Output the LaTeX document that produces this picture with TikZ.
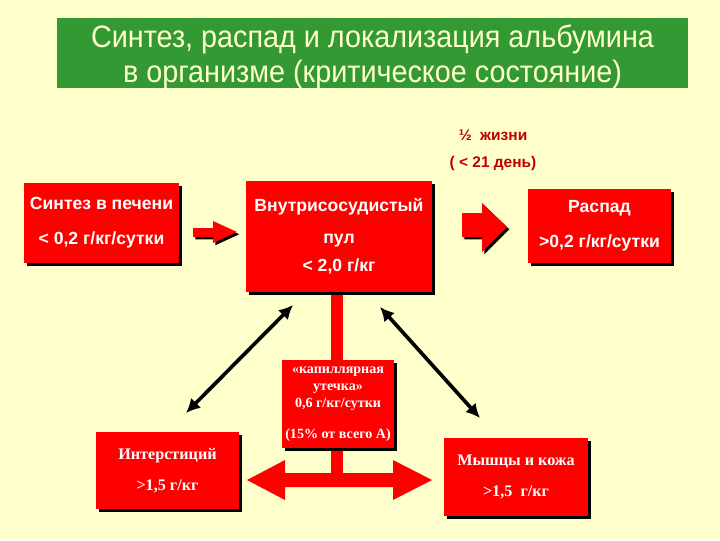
\documentclass[tikz,border=0pt]{standalone}
\usepackage{fontspec}
\setmainfont{Liberation Sans}
\newfontfamily\titlefont[FakeStretch=0.93]{Liberation Sans}
\newfontfamily\timesfont{Liberation Serif}
\usetikzlibrary{arrows.meta,shadows}
\definecolor{paper}{RGB}{255,255,204}
\definecolor{leaf}{RGB}{51,153,51}
\definecolor{boxred}{RGB}{255,0,0}
\definecolor{darkred}{RGB}{190,0,0}
\newcommand\px{0.025cm}

\begin{document}
\begin{tikzpicture}[x=\px, y=-\px,
	box/.style={fill=boxred, text=white, align=center, inner sep=0pt,
		drop shadow={shadow xshift=2.2pt, shadow yshift=-2.2pt, opacity=1, fill=black}},
	sansbox/.style={box, font=\fontsize{12.5}{15}\selectfont\bfseries},
	romanbox/.style={box, font=\timesfont\fontsize{11.5}{13}\selectfont\bfseries},
	blockarrow/.style={fill=boxred, drop shadow={shadow xshift=1.6pt, shadow yshift=-1.6pt, opacity=1, fill=black}},
	link/.style={{Latex[length=10pt,width=10pt]}-{Latex[length=10pt,width=10pt]}, line width=2.6pt, black},
	halflife/.style={text=darkred, font=\bfseries\fontsize{11}{13}\selectfont}]
	\fill[paper] (0,0) rectangle (720,540);
	\useasboundingbox (0,0) rectangle (720,540);
	% title
	\fill[leaf] (57,18) rectangle (688,88);
	\node[text=paper, align=center, font=\titlefont\fontsize{22}{25}\selectfont] (title) at (372.5,57)
		{Синтез, распад и локализация альбумина\\в организме (критическое состояние)};
	\node[halflife] (half) at (493,135) {½~~жизни};
	\node[halflife] (days) at (493,163) {( < 21 день)};
	% central red bar and distribution arrow
	\fill[boxred] (331,290) rectangle (343,475);
	\fill[boxred] (247,480) -- (285,460) -- (285,473) -- (393,473) -- (393,460) -- (432,480)
		-- (393,500) -- (393,487) -- (285,487) -- (285,500) -- cycle;
	\node[box, minimum width=112*\px, minimum height=88*\px, font=\timesfont\fontsize{10}{12}\selectfont\bfseries]
		(leak) at (338,404) {«капиллярная\\утечка»\\0,6 г/кг/сутки\\[10pt](15\% от всего А)};
	% boxes
	\node[sansbox, minimum width=155*\px, minimum height=80*\px] (synth) at (101.5,223)
		{Синтез в печени\\[10pt]< 0,2 г/кг/сутки};
	\node[sansbox, minimum width=186*\px, minimum height=111*\px] (pool) at (339,236.5)
		{Внутрисосудистый\\[8pt]пул\\[5pt]< 2,0 г/кг};
	\node[sansbox, minimum width=143*\px, minimum height=74*\px] (decay) at (599.5,226)
		{Распад\\[10pt]>0,2 г/кг/сутки};
	\node[romanbox, minimum width=143*\px, minimum height=77*\px] (inter) at (167.5,470.5)
		{Интерстиций\\[9pt]>1,5 г/кг};
	\node[romanbox, minimum width=144*\px, minimum height=78*\px] (muscle) at (516,477)
		{Мышцы и кожа\\[9pt]>1,5\ \ г/кг};
	% block arrows
	\path[blockarrow] (193,228) -- (213,228) -- (213,221) -- (237,232) -- (213,243) -- (213,237) -- (193,237) -- cycle;
	\path[blockarrow] (462,213) -- (482,213) -- (482,203) -- (507,227) -- (482,252) -- (482,237) -- (462,237) -- cycle;
	% exchange with tissues
	\coordinate (poolL) at (293,305);
	\coordinate (interT) at (186,413);
	\coordinate (poolR) at (380,307);
	\coordinate (muscleT) at (480,418);
	\draw[link] (poolL) -- (interT);
	\draw[link] (poolR) -- (muscleT);
\end{tikzpicture}
\end{document}
